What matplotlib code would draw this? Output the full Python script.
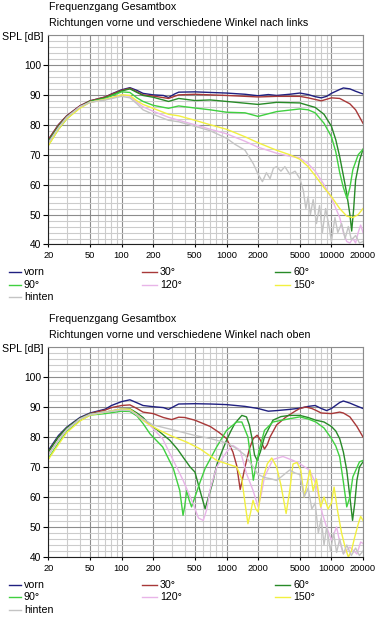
import matplotlib
matplotlib.use("Agg")
import matplotlib.pyplot as plt
from matplotlib.lines import Line2D
from matplotlib.ticker import FixedLocator, MultipleLocator, NullFormatter

plt.rcParams['font.family'] = ['Liberation Sans', 'DejaVu Sans']
plt.rcParams['font.size'] = 7.2

W, H = 384, 620

labels = ['vorn', '30°', '60°', '90°', '120°', '150°', 'hinten']
colors = ['#202080', '#a83838', '#288a28', '#40d040', '#e8b4e8', '#f2f040', '#c4c4c4']
xtick_vals = [20, 50, 100, 200, 500, 1000, 2000, 5000, 10000, 20000]
ytick_vals = [40, 50, 60, 70, 80, 90, 100]

# ---- Richtung nach links ----
f_vorn_l = [20, 25, 30, 40, 50, 60, 70, 80, 100, 120, 140, 160, 200, 250, 280, 320, 350, 500, 700,
            1000, 1500, 2000, 2500, 3000, 4000, 5000, 6000, 7000, 8000, 9000, 10000, 12000, 13000,
            15000, 17000, 20000]
db_vorn_l = [75, 80, 83, 86.3, 88, 88.7, 89.3, 90.3, 91.7, 92.4, 91.5, 90.5, 90, 89.8, 89.1, 90.3, 90.9,
             91, 90.8, 90.6, 90.2, 89.7, 90.1, 89.8, 90.2, 90.6, 90.1, 89.4, 89, 89.5, 90.5, 91.8, 92.3,
             92, 91.2, 90.3]
f_30_l = [20, 25, 30, 40, 50, 60, 70, 80, 100, 120, 140, 160, 200, 280, 350, 500, 700, 1000, 2000,
          3000, 5000, 6000, 8000, 10000, 12000, 15000, 17000, 20000]
db_30_l = [75, 80, 83, 86.3, 88, 88.7, 89.3, 90.2, 91.5, 92.2, 91, 90, 89.6, 88.8, 90, 90.2, 90, 89.8,
           89.3, 89.5, 89.5, 89, 88, 89, 88.8, 87, 85, 80.5]
f_60_l = [20, 25, 30, 40, 50, 70, 100, 120, 140, 160, 200, 280, 350, 500, 700, 1000, 2000, 3000, 5000,
          7000, 8500, 10000, 11000, 12000, 13000, 14000, 15000, 15600, 16300, 17000, 18500, 20000]
db_60_l = [74.5, 79.5, 82.7, 86, 87.8, 89, 91.3, 92, 90.8, 89.8, 89.2, 87.8, 88.8, 88.1, 88.3, 87.8, 86.8,
           87.5, 87.3, 85.8, 83.5, 79.5, 75, 69.3, 63, 57, 50, 44.5, 52, 61.5, 68, 71.8]
f_90_l = [20, 25, 30, 40, 50, 70, 100, 120, 140, 160, 200, 280, 350, 500, 700, 1000, 1500, 2000, 3000,
          5000, 6000, 7000, 8500, 10000, 11000, 12000, 13000, 14100, 15000, 16000, 18000, 20000]
db_90_l = [73.2, 78.5, 82, 85.8, 87.7, 88.8, 91, 90.8, 89, 87.8, 86.5, 85.5, 86.3, 85.6, 85, 84.2, 84,
           82.8, 84.4, 85.3, 85, 84, 80.5, 76, 71, 64, 59, 55.3, 59, 65, 70, 71.8]
f_120_l = [20, 25, 30, 40, 50, 70, 100, 120, 140, 160, 200, 280, 350, 500, 700, 1000, 1500, 2000, 3000,
           4000, 5000, 6000, 7000, 8500, 10000, 12000, 13000, 14000, 15000, 16000, 17000, 18000, 19000,
           20000]
db_120_l = [73.5, 79, 82.5, 86, 87.5, 88.5, 90, 89.5, 87.5, 86, 84.5, 82.5, 81.5, 80, 78.5, 77, 74.5,
            72.5, 70.5, 69.5, 69, 67, 64.5, 60, 55.5, 49, 44, 41, 40.5, 42, 40.5, 44, 46.5, 44]
f_150_l = [20, 25, 30, 40, 50, 70, 100, 120, 140, 160, 200, 280, 350, 500, 700, 1000, 1500, 2000, 3000,
           4000, 5000, 6000, 7000, 8500, 10000, 12000, 14000, 16000, 18000, 20000]
db_150_l = [73, 78.5, 82, 85.5, 87.5, 88.5, 90, 89.8, 88, 86.8, 85.5, 83.5, 83, 81.5, 80, 78.5, 76, 74,
            71.5, 70, 68.5, 66, 63, 59, 56, 52, 49.5, 49, 50, 52]
f_hint_l = [20, 25, 30, 40, 50, 70, 100, 120, 140, 160, 200, 280, 350, 500, 700, 1000, 1200, 1500, 1800,
            2000, 2200, 2400, 2600, 2800, 3000, 3300, 3600, 4000, 4500, 5000, 5400, 5700, 6000, 6300,
            6700, 7200, 7700, 8200, 8800, 9500, 10000, 10800, 11500, 12500, 13500, 14500, 15500, 17000,
            18500, 20000]
db_hint_l = [74, 79, 82.5, 86, 87.5, 88.3, 89.5, 89, 87, 85, 83.5, 81.5, 81, 79.5, 78, 75.5, 73.5, 71.5,
             67, 63.5, 61, 64, 62, 65.5, 66, 64.5, 66, 63.5, 64.5, 62, 58, 52, 56, 50, 55, 47, 53, 44,
             52, 46, 41, 49, 44, 47, 42, 46, 41.5, 43, 40.5, 41]

# ---- Richtung nach oben ----
f_vorn_o = [20, 25, 30, 40, 50, 60, 70, 80, 100, 120, 140, 160, 200, 250, 280, 320, 350, 500, 700,
            1000, 1500, 2000, 2500, 3000, 4000, 5000, 6000, 7000, 8000, 9000, 10000, 12000, 13000,
            15000, 17000, 20000]
db_vorn_o = [75.5, 80.5, 83.3, 86.5, 88, 88.7, 89.3, 90.5, 91.8, 92.4, 91.4, 90.5, 90.1, 89.8, 89.2,
             90.3, 91, 91.1, 91, 90.8, 90.2, 89.5, 88.6, 88.8, 89.2, 89.6, 90.2, 90.5, 89.5, 88.8, 89.5,
             91.5, 92, 91.3, 90.5, 89.5]
f_30_o = [20, 25, 30, 40, 50, 60, 70, 80, 100, 120, 140, 160, 200, 250, 300, 350, 400, 500, 700, 850,
          1000, 1150, 1250, 1350, 1420, 1500, 1650, 1800, 1960, 2100, 2300, 2450, 2600, 3000, 3700,
          4600, 5000, 5700, 6500, 7100, 8000, 10000, 12000, 13000, 15000, 17500, 20000]
db_30_o = [75, 80, 83, 86.2, 87.8, 88.5, 89, 89.8, 90.5, 90.7, 89.5, 88.3, 87.8, 86.5, 85.8, 86.6, 86.5,
           85.6, 83.5, 81.5, 79.5, 75, 70.5, 62.5, 66, 70, 76, 79.5, 80.6, 79, 76, 77.5, 80, 84, 86.7,
           88.8, 89.5, 90, 89.5, 88.9, 88, 87.8, 88.3, 88, 86.7, 83.5, 80]
f_60_o = [20, 25, 30, 40, 50, 70, 100, 120, 140, 160, 186, 220, 288, 340, 385, 450, 500, 560, 625, 673,
          740, 806, 900, 1000, 1100, 1200, 1400, 1550, 1650, 1740, 1850, 1960, 2100, 2300, 2770, 3300,
          4000, 5000, 6000, 7100, 8500, 10000, 11000, 12000, 13000, 14000, 15000, 15900, 16700, 17500,
          18500, 20000]
db_60_o = [75, 80, 83, 86.2, 87.7, 88.3, 89.3, 89.4, 88, 86.5, 84, 82.3, 78.9, 76, 73.3, 70, 68.3, 62,
           56.1, 60, 65, 70.6, 75, 78.9, 82, 84.5, 87.2, 86.7, 84, 80, 74, 72.2, 75, 80, 85.6, 86.8,
           87.2, 87.2, 86.5, 85.6, 85, 83.5, 82, 79.4, 75, 68.9, 60, 52.2, 58, 65.6, 70, 71.7]
f_90_o = [20, 25, 30, 40, 50, 70, 100, 120, 140, 160, 186, 246, 311, 358, 385, 400, 417, 440, 464, 500,
          560, 625, 806, 1000, 1250, 1400, 1600, 1700, 1800, 1900, 2050, 2300, 2770, 4000, 5000, 6000,
          7100, 8500, 10000, 11000, 12000, 13000, 14000, 15000, 16000, 18500, 20000]
db_90_o = [72.8, 78, 81.8, 85.5, 87.3, 87.8, 88.6, 88.5, 87, 84.5, 81.1, 76.7, 69.5, 62.2, 53.9, 57,
           62.2, 59, 56.7, 60, 65, 69.5, 76.7, 82.2, 85, 85, 80, 73, 65.6, 70, 75.6, 82.2, 85, 86.1,
           86.7, 86, 85, 83, 79.5, 77, 73.3, 65, 56.7, 60, 66.7, 71.7, 72.2]
f_120_o = [20, 25, 30, 40, 50, 70, 100, 120, 140, 160, 186, 246, 311, 385, 480, 540, 600, 650, 693, 806,
           1000, 1150, 1350, 1550, 1790, 2000, 2150, 2300, 2770, 3450, 4300, 5000, 6200, 7100, 8200,
           9000, 10000, 11200, 12000, 13000, 15000, 17500, 19000, 20000]
db_120_o = [74, 79, 82.5, 86, 87.5, 88.3, 89.3, 89.2, 87.3, 85.5, 83.9, 79.4, 72.2, 65.6, 57.8, 53,
            52.2, 56, 62.2, 70, 75, 77.2, 75.6, 67.8, 62.2, 56.7, 61, 66.7, 72.5, 73.5, 72.2, 71.1,
            68.9, 64.4, 54.4, 50, 45.6, 50, 45, 41.1, 43.3, 41, 45, 44.5]
f_150_o = [20, 25, 30, 40, 50, 70, 100, 120, 140, 161, 186, 230, 300, 417, 556, 806, 1000, 1250, 1400,
           1500, 1600, 1700, 1790, 1900, 2000, 2200, 2450, 2700, 3000, 3300, 3700, 4000, 4300, 4700,
           5100, 5500, 5900, 6250, 6700, 7200, 7900, 8500, 9300, 10000, 10600, 11500, 12500, 13500,
           14500, 15500, 16500, 18000, 19000, 20000]
db_150_o = [72.5, 77.5, 81.5, 85.3, 87.3, 88.3, 89.3, 89.2, 87.5, 85.6, 84, 82.2, 80.3, 78.3, 76.1,
            72.2, 71.1, 70, 66, 58, 51.1, 55, 58.9, 56, 55, 65.6, 71.1, 73, 70, 64, 54.5, 62, 71, 71.5,
            69, 60, 65, 69, 62, 66, 56.7, 60, 56, 58, 63.3, 55, 48, 43.3, 40, 42, 46, 51, 53.5, 52.2]
f_hint_o = [20, 25, 30, 40, 50, 70, 100, 120, 140, 160, 200, 300, 500, 700, 1000, 1200, 1500, 1800,
            2000, 2300, 2700, 3000, 3400, 4000, 4500, 5000, 5500, 6000, 6500, 7000, 7500, 8000, 8500,
            9000, 9800, 10500, 11200, 12000, 13000, 14000, 15500, 17000, 18500, 20000]
db_hint_o = [74, 79, 82.5, 86, 87.5, 88.3, 89, 88.8, 87.5, 86, 84, 82.5, 80.5, 79.5, 78, 76.5, 74, 70,
             67.5, 66.5, 66, 65.5, 67, 69, 68, 67.5, 60, 63, 56, 58, 48, 53, 44, 50, 42, 48, 41.5, 46,
             41, 44, 40.5, 43, 40.5, 42]

panels = [
    ('Richtungen vorne und verschiedene Winkel nach links', 35, 244.5,
     [(f_vorn_l, db_vorn_l), (f_30_l, db_30_l), (f_60_l, db_60_l), (f_90_l, db_90_l),
      (f_120_l, db_120_l), (f_150_l, db_150_l), (f_hint_l, db_hint_l)]),
    ('Richtungen vorne und verschiedene Winkel nach oben', 347, 557,
     [(f_vorn_o, db_vorn_o), (f_30_o, db_30_o), (f_60_o, db_60_o), (f_90_o, db_90_o),
      (f_120_o, db_120_o), (f_150_o, db_150_o), (f_hint_o, db_hint_o)]),
]

minor_x = [k * 10 ** e for e in range(1, 5) for k in range(1, 10) if 20 <= k * 10 ** e <= 20000]

fig = plt.figure(figsize=(W / 100, H / 100), dpi=100)


def fx(x):
    return x / W


def fy(y):
    return 1 - y / H


for subtitle, top, bottom, curves in panels:
    ax = fig.add_axes([fx(48.3), fy(bottom), (363 - 48.3) / W, (bottom - top) / H])
    for (f, db), c in zip(curves, colors):
        ax.plot(f, db, color=c, lw=1.0)
    ax.set_xscale('log')
    ax.set_xlim(20, 20000)
    ax.set_ylim(40, 110)
    ax.xaxis.set_major_locator(FixedLocator(xtick_vals))
    ax.xaxis.set_minor_locator(FixedLocator(minor_x))
    ax.set_xticklabels([str(v) for v in xtick_vals])
    ax.xaxis.set_minor_formatter(NullFormatter())
    ax.yaxis.set_major_locator(FixedLocator(ytick_vals))
    ax.yaxis.set_minor_locator(MultipleLocator(2))
    ax.grid(which='minor', color='#cccccc', lw=0.8)
    ax.grid(which='major', color='#8c8c8c', lw=0.8)
    ax.set_axisbelow(True)
    ax.tick_params(which='minor', length=0)
    ax.tick_params(axis='y', which='major', length=3.6, width=0.8, pad=1.5, labelsize=7.4)
    ax.tick_params(axis='x', which='major', length=2.5, width=0.8, pad=2.5, labelsize=6.7)
    for s in ['top', 'right']:
        ax.spines[s].set_color('#8c8c8c')
        ax.spines[s].set_linewidth(0.8)
    for s in ['left', 'bottom']:
        ax.spines[s].set_color('#202020')
        ax.spines[s].set_linewidth(0.8)

    fig.text(fx(49), fy(top - 25), 'Frequenzgang Gesamtbox', va='baseline', fontsize=7.7)
    fig.text(fx(49), fy(top - 9), subtitle, va='baseline', fontsize=7.7)
    fig.text(fx(43), fy(top + 5), 'SPL [dB]', ha='right', va='baseline', fontsize=7.7)

    # legend
    cols = [(9, 21, 24), (142, 157, 160), (275, 290, 293)]
    order = [(0, 0), (1, 0), (2, 0), (0, 1), (1, 1), (2, 1), (0, 2)]
    for i, (ci, ri) in enumerate(order):
        x0, x1, xt = cols[ci]
        yl = bottom + 27.5 + ri * 12.7
        fig.add_artist(Line2D([fx(x0), fx(x1)], [fy(yl), fy(yl)], color=colors[i], lw=1.0))
        fig.text(fx(xt), fy(yl + 3), labels[i], va='baseline', fontsize=7.7)

fig.savefig('out.png', dpi=100)
